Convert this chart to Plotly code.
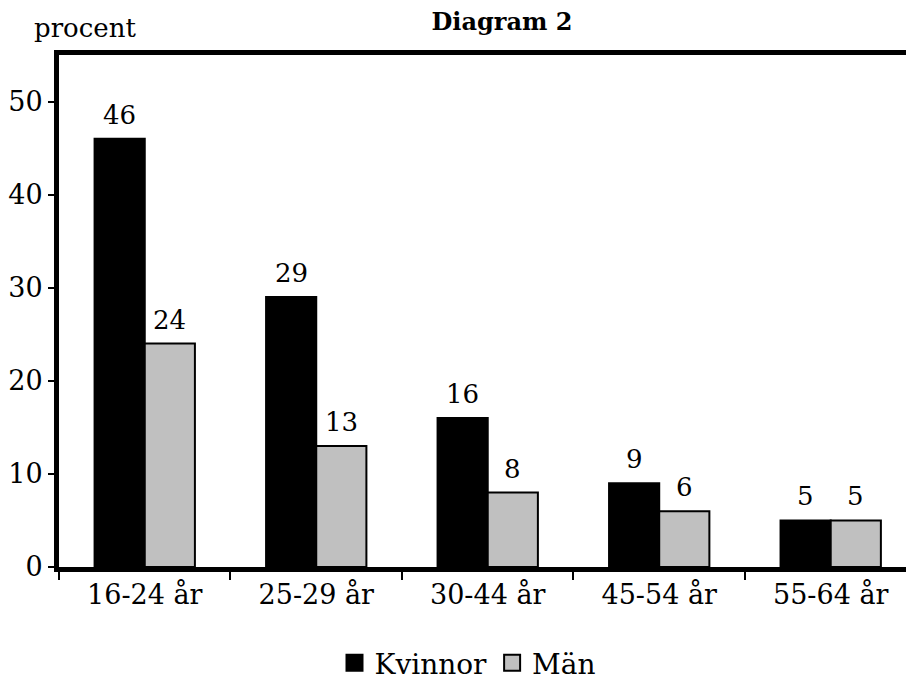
import plotly.graph_objects as go

categories = ["16-24 år", "25-29 år", "30-44 år", "45-54 år", "55-64 år"]
kvinnor = [46, 29, 16, 9, 5]
man = [24, 13, 8, 6, 5]
series_names = ["Kvinnor", "Män"]
y_ticks = [0, 10, 20, 30, 40, 50]

FONT = "DejaVu Serif"
BLACK = "#000000"
GRAY = "#c0c0c0"

fig = go.Figure()
fig.add_trace(go.Bar(
    x=categories, y=kvinnor, name=series_names[0],
    marker=dict(color=BLACK, line=dict(color=BLACK, width=2)),
    showlegend=False,
))
fig.add_trace(go.Bar(
    x=categories, y=man, name=series_names[1],
    marker=dict(color=GRAY, line=dict(color=BLACK, width=2)),
    showlegend=False,
))
# legend entries
fig.add_trace(go.Scatter(
    x=[None], y=[None], mode="markers", name=series_names[0],
    marker=dict(symbol="square", size=16, color=BLACK, line=dict(color=BLACK, width=2)),
))
fig.add_trace(go.Scatter(
    x=[None], y=[None], mode="markers", name=series_names[1],
    marker=dict(symbol="square", size=16, color=GRAY, line=dict(color=BLACK, width=2)),
))

L, T, B = 59, 55, 117
W, H = 906, 684
PW, PH = W - L, H - T - B

# value labels above bars, placed through the data axes
value_labels = []
for series, shift in ((kvinnor, -25), (man, 25)):
    for cat, val in zip(categories, series):
        value_labels.append(dict(
            x=cat, y=val, xref="x", yref="y", text=str(val),
            xshift=shift, yshift=7, yanchor="bottom", showarrow=False,
            font=dict(family=FONT, size=26, color=BLACK),
        ))

fig.update_layout(
    width=W, height=H,
    margin=dict(l=L, r=0, t=T, b=B, autoexpand=False),
    paper_bgcolor="white", plot_bgcolor="white",
    barmode="group", bargap=0.415, bargroupgap=0,
    font=dict(family=FONT, size=27, color=BLACK),
    title=dict(text="<b>Diagram 2</b>", x=502 / W, xanchor="center",
               y=1 - 22 / H, yanchor="middle", yref="container",
               font=dict(family=FONT, size=24, color=BLACK)),
    legend=dict(orientation="h", x=(468 - L) / PW, xanchor="center",
                y=(567 - 663) / PH, yanchor="middle",
                font=dict(family=FONT, size=28, color=BLACK), itemwidth=30,
                traceorder="normal"),
    xaxis=dict(
        type="category", categoryorder="array", categoryarray=categories,
        range=[-0.5, 4.439], automargin=False,
        showline=True, linecolor=BLACK, linewidth=5, mirror=True,
        ticks="outside", tickson="boundaries", ticklen=8, tickwidth=2, tickcolor=BLACK,
        showgrid=False, zeroline=False,
        tickfont=dict(family=FONT, size=27, color=BLACK),
    ),
    yaxis=dict(
        range=[0, 55], tickvals=y_ticks, automargin=False,
        showline=True, linecolor=BLACK, linewidth=5, mirror=False,
        ticks="outside", ticklen=6, tickwidth=2, tickcolor=BLACK,
        showgrid=False, zeroline=False,
        tickfont=dict(family=FONT, size=27, color=BLACK),
    ),
    annotations=[dict(
        text="procent", xref="paper", yref="paper",
        x=(32 - L) / PW, xanchor="left", y=(567 - 28) / PH, yanchor="middle",
        showarrow=False, font=dict(family=FONT, size=26, color=BLACK),
    )] + value_labels,
)

fig.write_html(
    "out.html",
    config={"displayModeBar": False},
    post_script="document.body.style.margin='0px';document.body.style.overflow='hidden';",
)
